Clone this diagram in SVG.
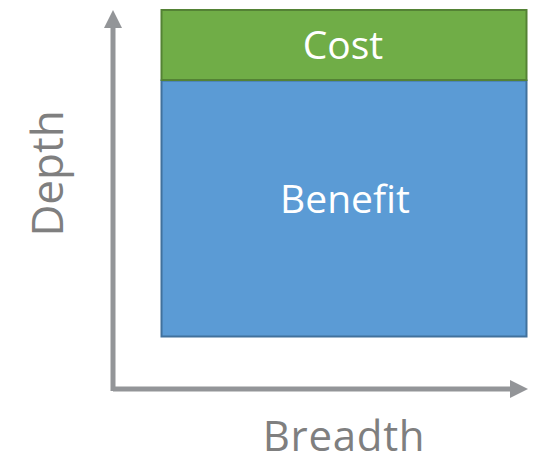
<svg xmlns="http://www.w3.org/2000/svg" width="538" height="462" viewBox="0 0 538 462">
<style>
.lbl{font-family:"Open Sans","Liberation Sans",sans-serif;text-anchor:middle}
.in{fill:#ffffff;font-size:39px}
.ax{fill:#7f7f7f;font-size:44px}
.axb{fill:#7f7f7f;font-size:42px;letter-spacing:0.7px}
.axis{stroke:#939598;stroke-width:5;fill:none}
</style>
<defs>
<marker id="ah" viewBox="0 0 18 18" refX="0" refY="9" markerWidth="18" markerHeight="18" markerUnits="userSpaceOnUse" orient="auto">
<path d="M0,0 L18,9 L0,18 Z" fill="#939598"/>
</marker>
</defs>
<g id="connectors">
<path class="axis" d="M113,391 L113,28" marker-end="url(#ah)"/>
<path class="axis" d="M113,389 L510,389" marker-end="url(#ah)"/>
</g>
<g id="benefit">
<rect x="161.5" y="80.5" width="365" height="256" fill="#5B9BD5" stroke="#41719C" stroke-width="2"/>
<text class="lbl in" x="345" y="213">Benefit</text>
</g>
<g id="cost">
<rect x="161.5" y="10" width="365" height="70" fill="#70AD47" stroke="#548235" stroke-width="2"/>
<text class="lbl in" x="343" y="59">Cost</text>
</g>
<g id="depth">
<text class="lbl ax" transform="translate(63,173.5) rotate(-90)" x="0" y="0">Depth</text>
</g>
<g id="breadth">
<text class="lbl axb" x="344" y="451">Breadth</text>
</g>
</svg>
